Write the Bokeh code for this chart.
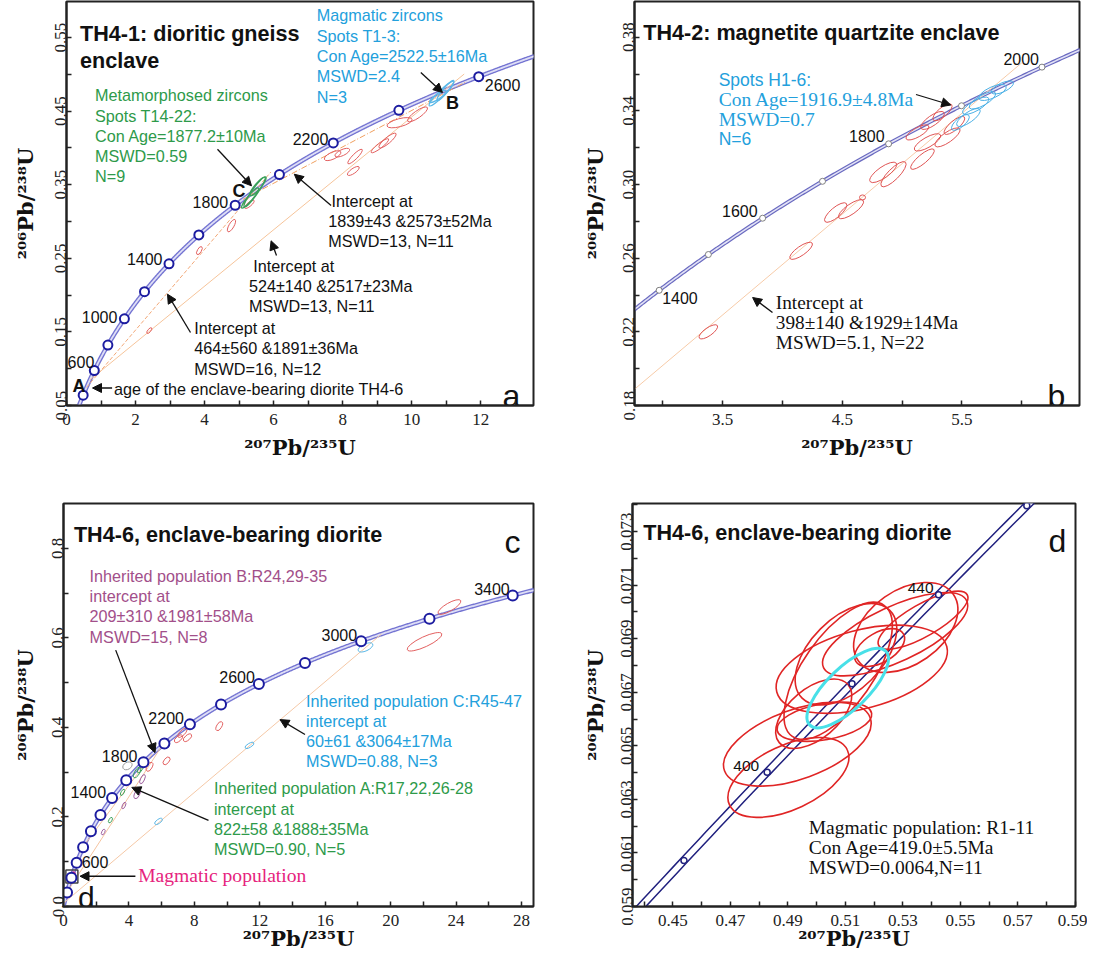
import numpy as np
from bokeh.plotting import figure
from bokeh.models import Arrow, NormalHead, FixedTicker, PrintfTickFormatter
from bokeh.layouts import column, row
from bokeh.embed import file_html
from bokeh.resources import INLINE
from bokeh.core.properties import value

SANS = "Liberation Sans"
SERIF = "Liberation Serif"
TITLE_FONT = "DejaVu Serif"

# U-Pb decay constants (Steiger & Jaeger 1977) - define the concordia curve
LAMBDA_238 = 1.55125e-10
LAMBDA_235 = 9.8485e-10

# ============================ DATA ============================
X_TITLE = "\u00b2\u2070\u2077Pb/\u00b2\u00b3\u2075U"
Y_TITLE = "\u00b2\u2070\u2076Pb/\u00b2\u00b3\u2078U"

# ---- (a) TH4-1 dioritic gneiss enclave
a_marker_ages = [400, 600, 800, 1000, 1200, 1400, 1600, 1800, 2000, 2200, 2400, 2600]
a_label_ages = [600, 1000, 1400, 1800, 2200, 2600]
a_lower_int = [1839, 524, 464]
a_upper_int = [2573, 2517, 1891]
a_red_x = [9.65, 10.17, 7.71, 7.99, 8.36, 9.08, 9.30, 8.31, 5.30, 4.78, 3.85, 2.40]
a_red_y = [0.4343, 0.4456, 0.3895, 0.3936, 0.3883, 0.403, 0.410, 0.3687, 0.3234, 0.2944, 0.2605, 0.1518]
a_red_major = [26, 24, 18, 16, 20, 22, 22, 14, 12, 14, 9, 7]
a_red_minor = [8, 7, 7, 6, 5, 5, 6, 5, 4, 5, 4, 3]
a_red_angle = [15, 35, 25, 25, 45, 38, 40, 35, 40, 60, 60, 50]
a_green_x = [5.45, 5.32, 5.55]
a_green_y = [0.340, 0.332, 0.348]
a_green_major = [36, 26, 24]
a_green_minor = [6, 5, 6]
a_green_angle = [55, 50, 50]
a_blue_x = [10.86, 10.98, 10.76]
a_blue_y = [0.4737, 0.4780, 0.4700]
a_blue_major = [34, 26, 20]
a_blue_minor = [6, 5, 5]
a_blue_angle = [45, 50, 35]

# ---- (b) TH4-2 magnetite quartzite enclave
b_marker_ages = [1400, 1500, 1600, 1700, 1800, 1900, 2000]
b_label_ages = [1400, 1600, 1800, 2000]
b_lower_int = [398]
b_upper_int = [1929]
b_red_x = [3.381, 4.156, 4.445, 4.573, 4.669, 4.842, 4.928, 5.128, 5.254, 5.337, 5.212, 5.379, 5.170, 5.437]
b_red_y = [0.2200, 0.2640, 0.2848, 0.2866, 0.2930, 0.3066, 0.3056, 0.3283, 0.3348, 0.3392, 0.3229, 0.3256, 0.3138, 0.3321]
b_red_major = [22, 27, 28, 30, 6, 32, 34, 26, 28, 24, 30, 30, 30, 26]
b_red_minor = [8, 9, 10, 10, 5, 11, 11, 9, 10, 9, 10, 10, 9, 9]
b_red_angle = [35, 35, 40, 35, 0, 35, 45, 30, 35, 40, 30, 35, 40, 40]
b_blue_x = [5.615, 5.554, 5.671, 5.755, 5.487, 5.838]
b_blue_y = [0.3428, 0.3364, 0.3457, 0.3500, 0.3337, 0.3527]
b_blue_major = [30, 28, 30, 30, 22, 24]
b_blue_minor = [10, 10, 10, 11, 9, 9]
b_blue_angle = [30, 35, 30, 25, 40, 25]

# ---- (c) TH4-6 enclave-bearing diorite
c_marker_ages = [200, 400, 600, 800, 1000, 1200, 1400, 1600, 1800, 2000, 2200, 2400,
                 2600, 2800, 3000, 3200, 3400]
c_label_ages = [600, 1400, 1800, 2200, 2600, 3000, 3400]
c_lower_int = [209, 60, 822]     # population B, C, A
c_upper_int = [1981, 3064, 1888]
c_red_x = [23.59, 22.07, 9.52, 7.27, 7.58, 7.03, 6.30, 5.26]
c_red_y = [0.6688, 0.5912, 0.4028, 0.3879, 0.3769, 0.3746, 0.3252, 0.3119]
c_red_major = [26, 38, 10, 12, 10, 10, 9, 10]
c_red_minor = [8, 10, 5, 5, 5, 5, 5, 5]
c_red_angle = [30, 25, 60, 45, 40, 40, 50, 60]
c_blue_x = [18.46, 11.37, 5.81]
c_blue_y = [0.5786, 0.3598, 0.190]
c_blue_major = [16, 10, 9]
c_blue_minor = [7, 4, 4]
c_blue_angle = [25, 30, 35]
c_grey_x = [3.91]
c_grey_y = [0.3141]
c_green_x = [4.50, 4.71, 3.61, 2.87]
c_green_y = [0.2993, 0.3081, 0.2549, 0.1929]
c_green_major = [12, 10, 7, 6]
c_green_minor = [5, 4, 3, 3]
c_purple_x = [4.83, 4.50, 3.69, 2.43]
c_purple_y = [0.2844, 0.2512, 0.2255, 0.1663]
c_purple_major = [10, 10, 7, 6]
c_purple_minor = [4, 5, 3, 3]
c_magmatic_x = [0.512]
c_magmatic_y = [0.0672]

# ---- (d) TH4-6 magmatic population R1-11
d_marker_ages = [380, 400, 420, 440, 460]
d_label_ages = [400, 440]
d_con_age = 419.0
d_red_x = [0.4902, 0.4933, 0.5075, 0.5157, 0.5102, 0.5273, 0.5310, 0.5370, 0.5027, 0.5219, 0.4990]
d_red_y = [0.06382, 0.06506, 0.06780, 0.06786, 0.06842, 0.06917, 0.06942, 0.06969, 0.06590, 0.06867, 0.06620]
d_red_major = [130, 155, 160, 176, 124, 158, 116, 102, 96, 55, 90]
d_red_minor = [64, 69, 70, 78, 72, 55, 74, 32, 36, 30, 50]
d_red_angle = [25, 20, 55, 15, 45, 25, 35, 30, 10, 30, 40]


# ============================ HELPERS ============================
def concordia(ages_ma):
    t = np.asarray(ages_ma, dtype=float) * 1e6
    return np.expm1(LAMBDA_235 * t), np.expm1(LAMBDA_238 * t)


def X(P, px):
    return P["x0"] + (px - P["L"]) * (P["x1"] - P["x0"]) / (P["R"] - P["L"])


def Y(P, py):
    return P["y0"] + (P["B"] - py) * (P["y1"] - P["y0"]) / (P["B"] - P["T"])


def sx(P):
    return (P["x1"] - P["x0"]) / (P["R"] - P["L"])


def sy(P):
    return (P["y1"] - P["y0"]) / (P["B"] - P["T"])


def make_fig(P, xt, xm, xf, yt, ym, yf, xstand, ystand):
    p = figure(width=P["fw"], height=P["fh"],
               x_range=(P["x0"], P["x1"]), y_range=(P["y0"], P["y1"]),
               output_backend="svg", toolbar_location=None,
               min_border_left=P["L"] - P["fx"],
               min_border_right=P["fx"] + P["fw"] - P["R"],
               min_border_top=P["T"] - P["fy"],
               min_border_bottom=P["fy"] + P["fh"] - P["B"])
    p.grid.visible = False
    p.outline_line_color = "#222222"
    p.outline_line_width = 2
    p.background_fill_color = "white"
    p.border_fill_color = "white"
    for ax in (p.xaxis[0], p.yaxis[0]):
        ax.axis_line_color = "#222222"
        ax.axis_line_width = 2
        ax.major_tick_in = 5
        ax.major_tick_out = 0
        ax.minor_tick_in = 5
        ax.minor_tick_out = 0
        ax.major_tick_line_color = "#222222"
        ax.minor_tick_line_color = "#222222"
        ax.major_tick_line_width = 1.5
        ax.minor_tick_line_width = 1.5
        ax.major_label_text_font = SERIF
        ax.major_label_text_font_size = "17px"
        ax.major_label_text_color = "#222222"
        ax.axis_label_text_font = TITLE_FONT
        ax.axis_label_text_font_size = "21px"
        ax.axis_label_text_font_style = "bold"
        ax.axis_label_text_color = "#111111"
    p.xaxis.axis_label = X_TITLE
    p.yaxis.axis_label = Y_TITLE
    p.xaxis.axis_label_standoff = xstand
    p.yaxis.axis_label_standoff = ystand
    p.xaxis.ticker = FixedTicker(ticks=xt, minor_ticks=xm)
    p.yaxis.ticker = FixedTicker(ticks=yt, minor_ticks=ym)
    p.xaxis.formatter = PrintfTickFormatter(format=xf)
    p.yaxis.formatter = PrintfTickFormatter(format=yf)
    p.xaxis.major_label_standoff = 8
    p.yaxis.major_label_standoff = 0
    p.yaxis.major_label_orientation = "vertical"
    return p


def draw_concordia(p, t0, t1, outer, w_outer, inner, w_inner):
    ages = np.arange(t0, t1 + 1, 2.0)
    cx, cy = concordia(ages)
    p.line(cx, cy, line_color=outer, line_width=w_outer)
    p.line(cx, cy, line_color=inner, line_width=w_inner)


def draw_markers(p, ages, size, color, width):
    cx, cy = concordia(ages)
    p.scatter(cx, cy, marker="circle", size=size, line_color=color,
              line_width=width, fill_color="white")


def age_labels(p, P, ages, offsets, size="16px"):
    cx, cy = concordia(ages)
    for t, x, y in zip(ages, cx, cy):
        align, dxp, dyp = offsets[t]
        p.text(x=[x + dxp * sx(P)], y=[y - dyp * sy(P)], text=[str(t)],
               text_font=value(SANS), text_font_size=size, text_color="#111111",
               text_align=align, text_baseline="middle")


def text_lines(p, P, lines, left, centers, font, size, color, style="normal"):
    p.text(x=[X(P, l) for l in left], y=[Y(P, c) for c in centers], text=lines,
           text_font=value(font), text_font_size=size, text_color=color,
           text_font_style=style, text_align="left", text_baseline="middle")


def put(p, P, txt, px, py, font, size, color="#111111", style="normal",
        align="left", baseline="alphabetic"):
    p.text(x=[X(P, px)], y=[Y(P, py)], text=[txt], text_font=value(font),
           text_font_size=size, text_color=color, text_font_style=style,
           text_align=align, text_baseline=baseline)


def arrow(p, P, x0, y0, x1, y1):
    p.add_layout(Arrow(end=NormalHead(size=9, fill_color="#111111", line_color="#111111",
                                      line_width=1),
                       x_start=X(P, x0), y_start=Y(P, y0), x_end=X(P, x1), y_end=Y(P, y1),
                       line_color="#111111", line_width=1.3))


def discordia(p, lo, up, frac, color, dash, width=1.0):
    (xl, xu), (yl, yu) = concordia([lo, up])
    p.line([xl, xl + frac * (xu - xl)], [yl, yl + frac * (yu - yl)],
           line_color=color, line_dash=dash, line_width=width)


def ellipses(p, xs, ys, major, minor, angle, color, width=1.0):
    p.ellipse(x=xs, y=ys, width=major, height=minor, angle=angle,
              width_units="screen", height_units="screen", angle_units="deg",
              fill_color=None, line_color=color, line_width=width)


# ============================ LAYOUT (screen px of page) ============================
PA = dict(fx=8, fy=8, fw=572, fh=470, L=74, R=541, T=9, B=413, x0=0.0, x1=13.53, y0=0.05, y1=0.599)
PB = dict(fx=580, fy=8, fw=515, fh=470, L=642, R=1087, T=9, B=413, x0=2.764, x1=6.482, y0=0.18, y1=0.3994)
PC = dict(fx=8, fy=478, fw=572, fh=486, L=71, R=541, T=509, B=915, x0=0.0, x1=28.73, y0=0.0, y1=0.9)
PD = dict(fx=580, fy=478, fw=515, fh=486, L=640, R=1083, T=511, B=914, x0=0.436, x1=0.59, y0=0.059, y1=0.07405)

BLUE_T = "#23a0dc"
GREEN_T = "#2e9a4a"
PURPLE_T = "#a24f8a"
MAGENTA_T = "#e6237d"
NAVY = "#1c1ca0"
RED = "#e36060"

# ---------------- panel a ----------------
pa = make_fig(PA, list(range(0, 13, 2)), list(range(1, 14, 2)), "%.0f",
              [0.05, 0.15, 0.25, 0.35, 0.45, 0.55], [0.10, 0.20, 0.30, 0.40, 0.50, 0.60], "%.2f",
              7, 15)
draw_concordia(pa, 0, 2900, "#7474d2", 4.5, "#dedef6", 1.8)
discordia(pa, a_lower_int[0], a_upper_int[0], 1.0, "#f0a060", "6 2 1 2")
discordia(pa, a_lower_int[1], a_upper_int[1], 1.058, "#f6c49a", "solid")
discordia(pa, a_lower_int[2], a_upper_int[2], 1.099, "#f2a878", "4 2")
ellipses(pa, a_red_x, a_red_y, a_red_major, a_red_minor, a_red_angle, RED)
ellipses(pa, a_green_x, a_green_y, a_green_major, a_green_minor, a_green_angle, "#3aa05a", 1.3)
ellipses(pa, a_blue_x, a_blue_y, a_blue_major, a_blue_minor, a_blue_angle, "#5ab8e8", 1.2)
draw_markers(pa, a_marker_ages, 9, NAVY, 2)
age_labels(pa, PA, a_label_ages, {600: ("right", 0, -8.7), 1000: ("right", -7, -1.4),
                                  1400: ("right", -6.5, -4.5), 1800: ("right", -7, -3.4),
                                  2200: ("right", -5, -3.5), 2600: ("left", 6, 8.7)})
put(pa, PA, "TH4-1: dioritic gneiss", 87.5, 41, SANS, "21.6px", style="bold")
put(pa, PA, "enclave", 87.5, 68, SANS, "21.6px", style="bold")
text_lines(pa, PA, ["Magmatic zircons", "Spots T1-3:", "Con Age=2522.5\u00b116Ma", "MSWD=2.4", "N=3"],
           [324.3] * 5, [22.7, 43.0, 63.3, 83.6, 104.0], SANS, "16.2px", BLUE_T)
text_lines(pa, PA, ["Metamorphosed zircons", "Spots T14-22:", "Con Age=1877.2\u00b110Ma", "MSWD=0.59", "N=9"],
           [102.5] * 5, [102.7, 123.0, 143.3, 163.6, 183.6], SANS, "16.2px", GREEN_T)
text_lines(pa, PA, ["Intercept at", "1839\u00b143 &2573\u00b152Ma", "MSWD=13, N=11"],
           [339, 335.7, 335.7], [208.3, 228.3, 248.3], SANS, "16.2px", "#111111")
text_lines(pa, PA, ["Intercept at", "524\u00b1140 &2517\u00b123Ma", "MSWD=13, N=11"],
           [260.7, 256.4, 256.4], [273.3, 293.3, 313.3], SANS, "16.2px", "#111111")
text_lines(pa, PA, ["Intercept at", "464\u00b1560 &1891\u00b136Ma", "MSWD=16, N=12"],
           [201.8, 201.8, 201.8], [335, 355.5, 376], SANS, "16.2px", "#111111")
text_lines(pa, PA, ["age of the enclave-bearing  diorite TH4-6"], [121.4], [396], SANS, "16.2px", "#111111")
put(pa, PA, "A", 80, 393, SANS, "18px", style="bold", baseline="middle")
put(pa, PA, "B", 453.6, 110, SANS, "18px", style="bold", baseline="middle")
put(pa, PA, "C", 240, 198.3, SANS, "18px", style="bold", baseline="middle")
put(pa, PA, "a", 510, 403, SANS, "32px")
arrow(pa, PA, 225, 156.7, 259, 193.3)
arrow(pa, PA, 428.3, 80, 450, 100)
arrow(pa, PA, 338.6, 213, 301.8, 181.7)
arrow(pa, PA, 284, 263, 278.6, 248.3)
arrow(pa, PA, 198, 340, 175, 301.7)
arrow(pa, PA, 119.6, 395.5, 100, 395.5)

# ---------------- panel b ----------------
pb = make_fig(PB, [3.5, 4.5, 5.5], [3.0, 4.0, 5.0, 6.0], "%.1f",
              [0.18, 0.22, 0.26, 0.30, 0.34, 0.38], [0.20, 0.24, 0.28, 0.32, 0.36], "%.2f",
              7, 13)
draw_concordia(pb, 1300, 2200, "#6a6ac0", 4.0, "#e2e2f6", 1.6)
discordia(pb, b_lower_int[0], b_upper_int[0], 1.0606, "#f7cba8", "solid")
ellipses(pb, b_red_x, b_red_y, b_red_major, b_red_minor, b_red_angle, "#e05555")
ellipses(pb, b_blue_x, b_blue_y, b_blue_major, b_blue_minor, b_blue_angle, "#4ab0e6")
draw_markers(pb, b_marker_ages, 6, "#808080", 1)
age_labels(pb, PB, b_label_ages, {1400: ("left", 3, 7.7), 1600: ("right", -5, -7.4),
                                  1800: ("right", -4, -7.4), 2000: ("right", -3, -8)})
put(pb, PB, "TH4-2: magnetite quartzite  enclave", 650.7, 40, SANS, "21.6px", style="bold")
text_lines(pb, PB, ["Spots H1-6:", "N=6"], [726.2, 726.2], [87.3, 146.7], SANS, "17.5px", BLUE_T)
text_lines(pb, PB, ["Con Age=1916.9\u00b14.8Ma", "MSWD=0.7"], [726.2, 726.2], [107.3, 126.7],
           SERIF, "19.5px", BLUE_T)
text_lines(pb, PB, ["Intercept at", "398\u00b1140 &1929\u00b114Ma", "MSWD=5.1, N=22"],
           [783.3] * 3, [310, 330, 350], SERIF, "19.3px", "#111111")
put(pb, PB, "b", 1055, 403, SANS, "32px")
arrow(pb, PB, 923.5, 102, 958.3, 112.5)
arrow(pb, PB, 780, 320, 760.1, 305)

# ---------------- panel c ----------------
pc = make_fig(PC, list(range(0, 29, 4)), list(range(2, 29, 4)), "%.0f",
              [0.0, 0.2, 0.4, 0.6, 0.8], [0.1, 0.3, 0.5, 0.7], "%.1f",
              -3, 12)
draw_concordia(pc, 0, 3700, "#7474d2", 4.5, "#dedef6", 1.8)
discordia(pc, c_lower_int[0], c_upper_int[0], 1.05, "#f5c4a0", "solid")
discordia(pc, c_lower_int[1], c_upper_int[1], 1.0, "#f5c8a6", "solid")
discordia(pc, c_lower_int[2], c_upper_int[2], 1.0, "#f5c4a0", "solid")
ellipses(pc, c_red_x, c_red_y, c_red_major, c_red_minor, c_red_angle, RED)
ellipses(pc, c_blue_x, c_blue_y, c_blue_major, c_blue_minor, c_blue_angle, "#5ab8e8")
ellipses(pc, c_grey_x, c_grey_y, [10], [7], [30], "#999999")
ellipses(pc, c_green_x, c_green_y, c_green_major, c_green_minor, [60] * 4, "#3aa05a")
ellipses(pc, c_purple_x, c_purple_y, c_purple_major, c_purple_minor, [65] * 4, "#a060a0")
ellipses(pc, c_magmatic_x, c_magmatic_y, [9], [4], [60], MAGENTA_T, 2)
pc.rect(x=c_magmatic_x, y=c_magmatic_y, width=12, height=13, width_units="screen",
        height_units="screen", fill_color=None, line_color="#444444", line_width=1.5)
draw_markers(pc, c_marker_ages, 10, NAVY, 2)
age_labels(pc, PC, c_label_ages, {600: ("left", 5, -1), 1400: ("right", -6, -6.3),
                                  1800: ("right", -6, -6.4), 2200: ("right", -6, -6),
                                  2600: ("right", -4, -7), 3000: ("right", -4, -6.6),
                                  3400: ("right", -3, -6.7)})
put(pc, PC, "TH4-6, enclave-bearing diorite", 81.4, 540, SANS, "21.6px", style="bold")
put(pc, PC, "c", 512, 548, SANS, "32px")
put(pc, PC, "d", 85.5, 906, SANS, "30px")
text_lines(pc, PC, ["Inherited population B:R24,29-35", "intercept at", "209\u00b1310 &1981\u00b158Ma",
                    "MSWD=15, N=8"], [97.1] * 4, [581.7, 602.2, 622.7, 643.2], SANS, "16.2px", PURPLE_T)
text_lines(pc, PC, ["Inherited population C:R45-47", "intercept at", "60\u00b161 &3064\u00b117Ma",
                    "MSWD=0.88, N=3"], [313.6] * 4, [708.3, 728.3, 748.3, 768.3], SANS, "16.2px", BLUE_T)
text_lines(pc, PC, ["Inherited population A:R17,22,26-28", "intercept at", "822\u00b158 &1888\u00b135Ma",
                    "MSWD=0.90, N=5"], [221.4] * 4, [796, 816.3, 836.6, 856.9], SANS, "16.2px", GREEN_T)
text_lines(pc, PC, ["Magmatic population"], [145.7], [884], SERIF, "19.6px", MAGENTA_T)
arrow(pc, PC, 123.2, 656.7, 162.5, 760)
arrow(pc, PC, 312.5, 741.7, 287.5, 726.7)
arrow(pc, PC, 216, 828.3, 139.3, 795)
arrow(pc, PC, 142.9, 884.5, 87.5, 884.5)

# ---------------- panel d ----------------
pd_ = make_fig(PD, [0.45, 0.47, 0.49, 0.51, 0.53, 0.55, 0.57, 0.59],
               [0.44, 0.46, 0.48, 0.50, 0.52, 0.54, 0.56, 0.58], "%.2f",
               [0.059, 0.061, 0.063, 0.065, 0.067, 0.069, 0.071, 0.073],
               [0.060, 0.062, 0.064, 0.066, 0.068, 0.070, 0.072, 0.074], "%.3f",
               -3, 11)
draw_concordia(pd_, 340, 490, "#20207e", 8.5, "white", 5.5)
ellipses(pd_, d_red_x, d_red_y, d_red_major, d_red_minor, d_red_angle, "#e02525", 1.6)
cxd, cyd = concordia([d_con_age])
ellipses(pd_, list(cxd), list(cyd), [106], [41], [44], "#48e0e8", 3)
draw_markers(pd_, d_marker_ages, 6, "#20207e", 1.5)
age_labels(pd_, PD, d_label_ages, {400: ("right", -8, -6.6), 440: ("right", -5, -7)}, "15.5px")
put(pd_, PD, "TH4-6, enclave-bearing diorite", 650.7, 540, SANS, "21.6px", style="bold")
put(pd_, PD, "d", 1056, 548, SANS, "32px")
text_lines(pd_, PD, ["Magmatic population: R1-11", "Con Age=419.0\u00b15.5Ma", "MSWD=0.0064,N=11"],
           [816.2] * 3, [835, 855, 875], SERIF, "19.5px", "#111111")

layout = column(row(pa, pb), row(pc, pd_))
open("out.html", "w").write(file_html(layout, INLINE))
